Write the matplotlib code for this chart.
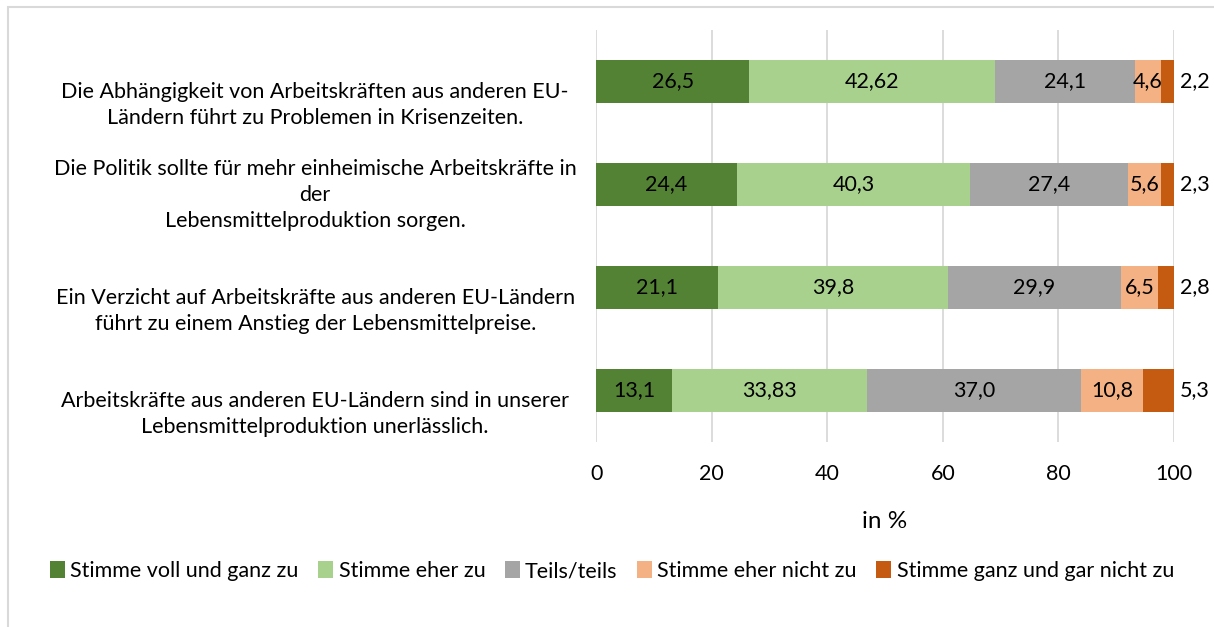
import matplotlib.pyplot as plt
from matplotlib.patches import Rectangle
import numpy as np

plt.rcParams['font.family'] = ['Lato', 'DejaVu Sans']

############################### données ###############################

categories = [
    "Die Abhängigkeit von Arbeitskräften aus anderen EU-\nLändern führt zu Problemen in Krisenzeiten.",
    "Die Politik sollte für mehr einheimische Arbeitskräfte in\nder\nLebensmittelproduktion sorgen.",
    "Ein Verzicht auf Arbeitskräfte aus anderen EU-Ländern\nführt zu einem Anstieg der Lebensmittelpreise.",
    "Arbeitskräfte aus anderen EU-Ländern sind in unserer\nLebensmittelproduktion unerlässlich.",
]
series_names = ["Stimme voll und ganz zu", "Stimme eher zu", "Teils/teils",
                "Stimme eher nicht zu", "Stimme ganz und gar nicht zu"]
voll = [26.5, 24.4, 21.1, 13.1]
eher = [42.62, 40.3, 39.8, 33.83]
teils = [24.1, 27.4, 29.9, 37.0]
eher_nicht = [4.6, 5.6, 6.5, 10.8]
gar_nicht = [2.2, 2.3, 2.8, 5.3]
labels_txt = [
    ["26,5", "24,4", "21,1", "13,1"],
    ["42,62", "40,3", "39,8", "33,83"],
    ["24,1", "27,4", "29,9", "37,0"],
    ["4,6", "5,6", "6,5", "10,8"],
    ["2,2", "2,3", "2,8", "5,3"],
]
colors = ["#548235", "#a9d18e", "#a5a5a5", "#f4b183", "#c55a11"]

FS = 15.5  # taille de police principale

############################### figure ###############################

fig = plt.figure(figsize=(12.14, 6.27), dpi=100)
ax = fig.add_axes([0.491, 0.295, 0.476, 0.657])

# cadre gris autour du graphique
fig.patches.append(Rectangle((8 / 1214, -0.1), 1.2, 1 - 7 / 627 + 0.1,
                             transform=fig.transFigure, fill=False,
                             edgecolor="#d9d9d9", linewidth=1.5))

y = np.arange(len(categories))
data = [voll, eher, teils, eher_nicht, gar_nicht]
left = np.zeros(len(categories))
for k, vals in enumerate(data):
    vals = np.array(vals)
    ax.barh(y, vals, left=left, height=0.41, color=colors[k],
            label=series_names[k], zorder=3)
    for i in range(len(categories)):
        if k == len(data) - 1:  # dernier segment : étiquette à droite
            ax.text(left[i] + vals[i] + 1.0, y[i], labels_txt[k][i],
                    ha="left", va="center", fontsize=FS)
        else:
            ax.text(left[i] + vals[i] / 2, y[i], labels_txt[k][i],
                    ha="center", va="center", fontsize=FS)
    left += vals

ax.set_xlim(0, 100)
ax.set_ylim(3.5, -0.5)
ax.set_xticks([0, 20, 40, 60, 80, 100])
ax.tick_params(axis="x", length=0, labelsize=FS, pad=16)
ax.set_yticks([])
# libellés des catégories, centrés (ancrés par le bas comme dans Excel)
for i, cat in enumerate(categories):
    ax.text(-0.486, y[i] + 0.455, cat, transform=ax.get_yaxis_transform(),
            ha="center", va="bottom", multialignment="center",
            fontsize=FS, linespacing=1.38)
ax.grid(axis="x", color="#d9d9d9", linewidth=1.3, zorder=0)
for s in ax.spines.values():
    s.set_visible(False)
ax.set_xlabel("in %", fontsize=17.5, labelpad=19)

ax.legend(loc="center", bbox_to_anchor=(612 / 1214, 1 - 571 / 627),
          bbox_transform=fig.transFigure,
          ncol=5, frameon=False, fontsize=FS, handlelength=0.7, handleheight=0.8,
          handletextpad=0.25, columnspacing=0.9)

fig.savefig("out.png", dpi=100)
